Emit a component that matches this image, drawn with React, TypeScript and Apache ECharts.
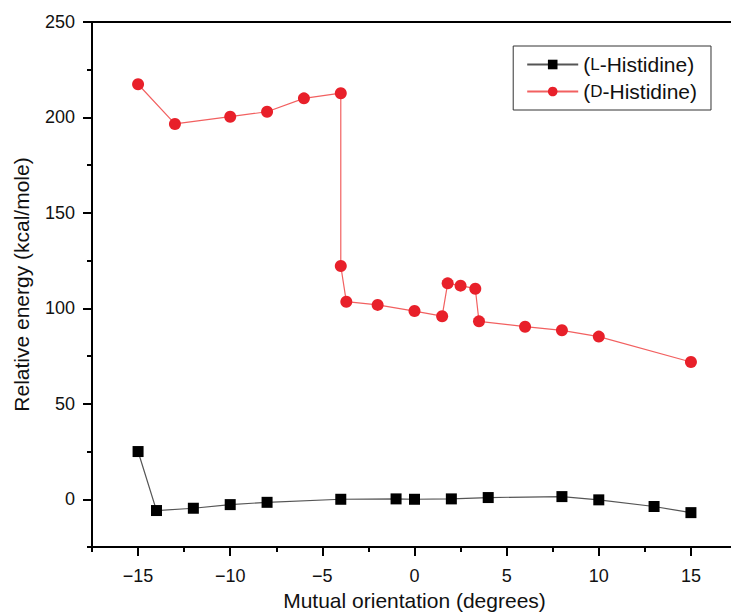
import React, { useEffect, useRef } from "react";
import * as echarts from "echarts";

// Mutual orientation (degrees) and relative energy (kcal/mole) for each isomer
const lAngle = [-15, -14, -12, -10, -8, -4, -1, 0, 2, 4, 8, 10, 13, 15];
const lEnergy = [25.0, -5.9, -4.7, -2.8, -1.6, 0, 0.2, 0, 0.2, 0.9, 1.4, -0.3, -3.8, -7.0];

const dAngle = [-15, -13, -10, -8, -6, -4, -4, -3.7, -2, 0, 1.5, 1.8, 2.5, 3.3, 3.5, 6, 8, 10, 15];
const dEnergy = [
  217.4, 196.6, 200.4, 203.0, 210.0, 212.7, 122.2, 103.5, 101.8, 98.6, 95.9, 113.1, 111.9,
  110.3, 93.2, 90.4, 88.5, 85.2, 71.9,
];

// Axis ticks
const xMajorTicks = [-15, -10, -5, 0, 5, 10, 15];
const xMinorTicks = [-17.5, -12.5, -7.5, -2.5, 2.5, 7.5, 12.5, 17.5];
const yMajorTicks = [0, 50, 100, 150, 200, 250];
const yMinorTicks = [-25, 25, 75, 125, 175, 225];

const FONT = "'Liberation Sans', Arial, Helvetica, sans-serif";

const seriesNames = ["L-Histidine", "D-Histidine"];

export default function App() {
  const ref = useRef<HTMLDivElement>(null);

  useEffect(() => {
    if (!ref.current) return;
    const chart = echarts.init(ref.current, null, { renderer: "svg" });

    const xRange = { min: -17.5, max: 17.5 };
    const yRange = { min: -25, max: 250 };

    chart.setOption({
      animation: false,
      backgroundColor: "#ffffff",
      grid: {
        left: 92,
        top: 22,
        width: 645,
        height: 525,
        show: true,
        borderColor: "#000",
        borderWidth: 2,
        containLabel: false,
        outerBoundsMode: "none",
      },
      legend: {
        orient: "vertical",
        right: 20,
        top: 46,
        padding: [8, 14, 8, 13],
        itemGap: 6,
        itemWidth: 51,
        itemHeight: 12,
        borderColor: "#333",
        borderWidth: 1,
        backgroundColor: "#fff",
        data: seriesNames,
        formatter: (name: string) => {
          const letter = name.charAt(0);
          const rest = name.slice(1);
          return `{p|(}{s|${letter}}{p|${rest})}`;
        },
        textStyle: {
          fontFamily: FONT,
          color: "#111",
          rich: {
            p: { fontFamily: FONT, fontSize: 21, color: "#111" },
            s: { fontFamily: FONT, fontSize: 17, color: "#111" },
          },
        },
      },
      xAxis: [
        {
          type: "value",
          ...xRange,
          position: "bottom",
          name: "Mutual orientation (degrees)",
          nameLocation: "middle",
          nameGap: 40,
          nameTextStyle: { fontFamily: FONT, fontSize: 21, color: "#111" },
          axisLine: { show: true, onZero: false, lineStyle: { color: "#000", width: 2 } },
          axisTick: {
            show: true,
            inside: false,
            length: 9,
            customValues: xMajorTicks,
            lineStyle: { color: "#000", width: 2 },
          },
          axisLabel: {
            show: true,
            customValues: xMajorTicks,
            margin: 20,
            fontFamily: FONT,
            fontSize: 18,
            color: "#111",
            formatter: (v: number) => (v < 0 ? "\u2212" + Math.abs(v) : String(v)),
          },
          splitLine: { show: false },
        },
        {
          type: "value",
          ...xRange,
          position: "bottom",
          axisLine: { show: false, onZero: false },
          axisTick: {
            show: true,
            inside: false,
            length: 5,
            customValues: xMinorTicks,
            lineStyle: { color: "#000", width: 2 },
          },
          axisLabel: { show: false },
          splitLine: { show: false },
        },
      ],
      yAxis: [
        {
          type: "value",
          ...yRange,
          position: "left",
          name: "Relative energy (kcal/mole)",
          nameLocation: "middle",
          nameGap: 60,
          nameTextStyle: { fontFamily: FONT, fontSize: 21, color: "#111" },
          axisLine: { show: true, onZero: false, lineStyle: { color: "#000", width: 2 } },
          axisTick: {
            show: true,
            inside: false,
            length: 9,
            customValues: yMajorTicks,
            lineStyle: { color: "#000", width: 2 },
          },
          axisLabel: {
            show: true,
            customValues: yMajorTicks,
            margin: 17,
            fontFamily: FONT,
            fontSize: 18,
            color: "#111",
          },
          splitLine: { show: false },
        },
        {
          type: "value",
          ...yRange,
          position: "left",
          axisLine: { show: false, onZero: false },
          axisTick: {
            show: true,
            inside: false,
            length: 5,
            customValues: yMinorTicks,
            lineStyle: { color: "#000", width: 2 },
          },
          axisLabel: { show: false },
          splitLine: { show: false },
        },
      ],
      series: [
        {
          name: seriesNames[0],
          type: "line",
          xAxisIndex: 0,
          yAxisIndex: 0,
          data: lAngle.map((a, i) => [a, lEnergy[i]]),
          symbol: "rect",
          symbolSize: [11, 11],
          itemStyle: { color: "#000" },
          lineStyle: { color: "#555", width: 1.2 },
          z: 3,
        },
        {
          name: seriesNames[1],
          type: "line",
          xAxisIndex: 0,
          yAxisIndex: 0,
          data: dAngle.map((a, i) => [a, dEnergy[i]]),
          symbol: "circle",
          symbolSize: 12,
          itemStyle: { color: "#e8202a" },
          lineStyle: { color: "#f26060", width: 1.2 },
          z: 4,
        },
      ],
    });

    return () => chart.dispose();
  }, []);

  return <div ref={ref} style={{ width: 731, height: 613, position: "absolute", left: 0, top: 0 }} />;
}
